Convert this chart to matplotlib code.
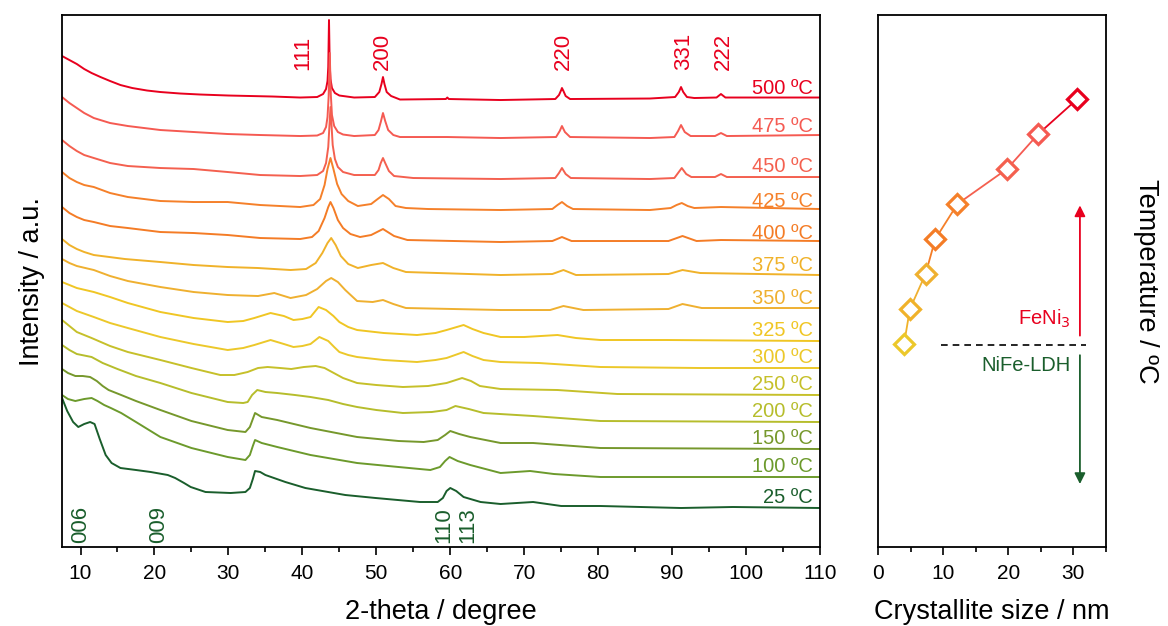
import matplotlib
matplotlib.use('Agg')
import matplotlib.pyplot as plt

plt.rcParams['font.family'] = ['Liberation Sans', 'DejaVu Sans']

# XRD patterns, stacked: (2-theta, intensity a.u.) pairs
temps = [500, 475, 450, 425, 400, 375, 350, 325, 300, 250, 200, 150, 100, 25]
colors = ['#e8001e', '#f55a52', '#f4604f', '#f5802a', '#f47c26', '#f0b22a', '#efb030',
          '#f0c624', '#ecc82a', '#c6c02a', '#b6bd2c', '#76982c', '#6c9a2c', '#1a5e2c']

pts_500 = [(7.5, 491), (8.5, 487), (9.5, 483), (10.5, 478), (11.5, 474), (12.7, 470), (14, 466), (15.4, 462),
           (17, 459), (19, 456.5), (20.8, 455), (23.5, 453.5), (26.2, 452.5), (30, 451.5), (33, 451), (36, 450.5),
           (39.7, 449.5), (42.0, 450), (42.8, 453), (43.2, 458), (43.4, 466), (43.5, 480), (43.6, 527), (43.7, 482),
           (43.8, 468), (44.0, 459), (44.4, 454), (45, 451.5), (47, 449.5), (49.8, 450), (50.4, 455), (50.7, 463),
           (50.9, 470), (51.1, 463), (51.4, 455), (52, 451), (53.2, 447.5), (59.4, 448), (59.6, 449.5), (59.8, 448),
           (66.8, 447), (74.2, 448), (74.7, 452), (75.0, 457), (75.1, 459), (75.3, 456), (75.6, 451), (76.2, 448),
           (87, 448.5), (90.4, 450), (90.9, 455), (91.2, 460), (91.5, 455), (92, 450), (93, 449), (96, 449.5),
           (96.6, 453), (97.2, 449.5), (110, 449.5)]
pts_475 = [(7.5, 450), (8.5, 444), (9.5, 439), (10.5, 434), (11.8, 429), (14, 424), (16.4, 421), (20.8, 417),
           (25.3, 415), (29.9, 413), (34.3, 412), (39.7, 411), (42.0, 411.5), (42.8, 414), (43.2, 420), (43.4, 430),
           (43.55, 450), (43.7, 494), (43.85, 452), (44.0, 432), (44.3, 421), (44.8, 415), (45.5, 412.5), (47, 411),
           (49.8, 412), (50.3, 417), (50.6, 425), (50.9, 434), (51.2, 426), (51.6, 417), (52.3, 412), (53.2, 410),
           (59.6, 410), (66.8, 409), (74.3, 410), (74.8, 416), (75.1, 421), (75.5, 415), (76.2, 410), (87, 409),
           (90.3, 410), (90.8, 416), (91.2, 422), (91.7, 415), (92.5, 411), (95.8, 411), (96.6, 414), (97.4, 411),
           (110, 412)]
pts_450 = [(7.5, 407), (8.5, 401), (9.5, 396), (10.5, 392), (11.8, 389), (14, 384), (16.4, 381), (20.8, 379),
           (25.3, 378), (29.9, 375), (34.3, 372), (39.7, 371), (42.0, 372), (42.8, 376), (43.2, 384), (43.5, 400),
           (43.8, 440), (44.1, 402), (44.4, 388), (44.8, 380), (45.5, 375), (47, 372), (49.8, 372), (50.3, 377),
           (50.6, 384), (50.9, 389), (51.2, 384), (51.7, 376), (52.4, 371), (55, 369), (66.8, 368), (74.2, 369),
           (74.7, 374), (75.1, 379), (75.6, 373), (76.3, 369), (87, 368), (90.3, 369), (90.8, 374), (91.3, 379),
           (91.9, 373), (92.6, 370), (95.8, 370), (96.6, 373), (97.4, 370), (110, 370)]
pts_425 = [(7.5, 375), (8.5, 369), (9.5, 365), (10.5, 362), (11.8, 360), (14, 354), (16.4, 350), (20.8, 346),
           (25.3, 345), (29.9, 345), (34.3, 342), (39.7, 340), (41.5, 342), (42.4, 348), (43.0, 362), (43.4, 378),
           (43.8, 389), (44.2, 378), (44.7, 363), (45.3, 353), (46.2, 346), (47.5, 341), (49.3, 343), (50.0, 347),
           (50.9, 352), (51.7, 348), (52.6, 341), (54, 339), (57, 338), (66.8, 337), (73.8, 338), (74.5, 342),
           (75.1, 345), (75.8, 341), (76.6, 338), (87, 337), (89.8, 339), (90.6, 342), (91.3, 344), (92.1, 341),
           (93, 339), (96.6, 340), (110, 338)]
pts_400 = [(7.5, 340), (8.5, 334), (9.5, 330), (10.5, 327), (11.8, 325), (14, 321), (16.4, 319), (20.8, 315),
           (25.3, 314), (29.9, 312), (34.3, 309), (39.7, 308), (41.3, 310), (42.2, 316), (43.0, 329), (43.5, 340),
           (43.8, 345), (44.2, 339), (44.8, 327), (45.5, 319), (46.5, 313), (47.8, 310), (49.3, 312), (50.9, 318),
           (52.4, 311), (54.2, 307), (66.8, 305), (73.8, 306), (75.1, 310), (76.4, 306), (89.5, 306), (91.4, 311),
           (93.3, 306), (96.6, 307), (110, 306)]
pts_375 = [(7.5, 308), (8.5, 302), (9.5, 298), (10.5, 295), (11.8, 292), (16, 288), (20.8, 285), (25.3, 282),
           (29.9, 280), (34, 279), (38.4, 277), (40.5, 278), (41.8, 284), (42.7, 294), (43.4, 304), (43.9, 309),
           (44.5, 302), (45.2, 291), (46.2, 283), (47.5, 279), (49.3, 282), (50.9, 284), (52.3, 279), (54, 275),
           (66.8, 272), (73.8, 273), (75.3, 277), (77, 272), (89.5, 273), (91.4, 277), (93.8, 274), (110, 272)]
pts_350 = [(7.5, 288), (8.5, 284), (9.5, 281), (11.8, 277), (14, 271), (16.4, 266), (20.8, 260), (25.3, 255),
           (29.9, 252), (34, 251), (36.2, 254), (38.4, 249), (40.5, 252), (42, 258), (43.2, 266), (43.9, 269),
           (44.8, 265), (45.8, 257), (47.4, 246), (49.5, 245), (50.9, 247), (52.3, 243), (54, 239), (66.8, 237),
           (73.5, 237), (75.3, 241), (78, 237), (89.5, 238), (91.4, 243), (94, 239), (110, 239)]
pts_325 = [(7.5, 265), (8.5, 262), (9.5, 259), (11.8, 255), (14, 250), (16.4, 244), (20.8, 235), (25.3, 229),
           (29.9, 225), (32, 226), (33.5, 229), (35.7, 234), (37.5, 231), (38.8, 227), (40, 228), (41.1, 230),
           (42.2, 240), (43.2, 237), (44.2, 231), (45, 225), (46.2, 220), (47.4, 217), (51, 214), (55.5, 212),
           (58, 214), (59.5, 217), (61.8, 222), (63, 218), (64.5, 214), (66.8, 210), (70, 210), (74.5, 212),
           (77, 209), (80.3, 207), (89.3, 207), (110, 206)]
pts_300 = [(7.5, 244), (8.5, 240), (9.5, 236), (11.8, 230), (14, 224), (16.4, 219), (20.8, 210), (25.3, 203),
           (29.9, 197), (32, 199), (33.5, 202), (35.7, 207), (37.5, 203), (38.8, 200), (40, 201), (41.1, 203),
           (42.3, 210), (43.5, 206), (44.3, 200), (45, 195), (46.2, 192), (47.4, 190), (51, 187), (55.5, 185),
           (58, 187), (59.5, 189), (61.8, 195), (63, 191), (64.5, 187), (66.8, 185), (72, 184), (80.3, 180),
           (93.8, 179), (110, 179)]
pts_250 = [(7.5, 227), (8.5, 221), (9.5, 215), (11.5, 209), (14, 201), (16.4, 195), (20.8, 187), (25, 179),
           (28.9, 172), (30.8, 172), (32.6, 175), (34, 179), (35.3, 180), (37, 179), (38.5, 178), (40.2, 180),
           (41.8, 181), (43, 179), (44, 175), (45.5, 169), (47.4, 164), (50, 162), (53.6, 160), (57, 161),
           (59.5, 164), (61.6, 169), (62.8, 166), (64, 161), (66.8, 158), (74.5, 157), (82.6, 153), (110, 152)]
pts_200 = [(7.5, 202), (8.5, 197), (9.5, 193), (11.5, 190), (13, 184), (15, 178), (17.5, 171), (20.8, 164),
           (25, 154), (29.9, 145), (32, 144), (32.6, 145), (33.2, 152), (33.9, 157), (35, 155), (36.6, 154),
           (39, 152), (41.1, 150), (43.5, 147), (45.5, 143), (47.4, 140), (50, 137), (53.6, 134), (57.5, 135),
           (59.5, 137), (60.7, 141), (62.5, 138), (64.5, 134), (71.2, 131), (80.3, 126), (110, 125)]
pts_150 = [(7.5, 178), (8.3, 174), (9.3, 171), (10.3, 171), (11.3, 170), (12.2, 166), (13, 161), (13.8, 157),
           (15.5, 152), (17.5, 146), (20.8, 137), (25, 126), (29.9, 117), (32.3, 115), (32.9, 120), (33.3, 128),
           (33.6, 134), (34.5, 130), (36.6, 127), (41.1, 119), (47.4, 110), (53, 106), (56.4, 105), (58.3, 107),
           (59.3, 112), (60, 116), (61.2, 113), (62.7, 110), (66.8, 104), (71.2, 104), (80.3, 99), (110, 98)]
pts_100 = [(7.5, 152), (8.3, 148), (9.3, 146), (10.5, 148), (11.5, 149), (12.3, 146), (13.2, 142), (14.1, 139),
           (15.5, 134), (17.5, 125), (20.8, 110), (25, 99), (29.9, 90), (32.3, 87), (32.9, 92), (33.3, 101),
           (33.6, 107), (34.5, 104), (36.6, 100), (41.1, 92), (47.4, 84), (53, 80), (57.3, 77), (58.6, 80),
           (59.3, 86), (59.9, 90), (61, 86), (62.7, 82), (66.8, 74), (70.8, 76), (74, 73), (80.3, 70), (110, 70)]
pts_25 = [(7.5, 149), (8.2, 136), (9.0, 125), (9.7, 120), (10.5, 123), (11.3, 125), (11.9, 123), (12.6, 108),
          (13.4, 92), (14.2, 84), (15.4, 79), (17.5, 77), (19.5, 75), (21.8, 72), (22.8, 69), (24, 64), (24.9, 60),
          (26.9, 55), (30.3, 54), (32.3, 55), (32.9, 59), (33.3, 68), (33.6, 76), (34.3, 75), (35.0, 72),
          (37.7, 65), (40.4, 59), (45.8, 52), (49.9, 49), (55.9, 45), (58.3, 45), (59.0, 49), (59.5, 56),
          (60.0, 59), (60.8, 56), (61.8, 50), (64.1, 45), (66.8, 43), (71.2, 45), (75, 41), (80.3, 41),
          (91.2, 39), (98.2, 40), (110, 39)]

patterns = [pts_500, pts_475, pts_450, pts_425, pts_400, pts_375, pts_350,
            pts_325, pts_300, pts_250, pts_200, pts_150, pts_100, pts_25]
label_y = [459, 421, 381, 346, 314, 282, 249, 217, 190, 163, 136, 109, 81, 50]

fenih_peaks = ['111', '200', '220', '331', '222']
fenih_pos = [40.1, 50.8, 75.3, 91.5, 96.9]
ldh_peaks = ['006', '009', '110', '113']
ldh_pos = [10.0, 20.5, 59.1, 62.4]

# crystallite size vs temperature
size_temps = [325, 350, 375, 400, 425, 450, 475, 500]
sizes = [4.0, 4.9, 7.3, 8.8, 12.2, 19.8, 24.6, 30.6]
size_colors = ['#ecc82a', '#f0b22a', '#efb030', '#f47c26', '#f5802a', '#f4604f', '#f55a52', '#e8001e']

red = '#e8001e'
green = '#1a5e2c'

fig = plt.figure(figsize=(11.68, 6.26), dpi=100)
ax1 = fig.add_axes([0.0531, 0.1262, 0.6490, 0.8498])
ax2 = fig.add_axes([0.7517, 0.1262, 0.1952, 0.8498])

for pts, c, t, ly in zip(patterns, colors, temps, label_y):
    tt, inten = zip(*pts)
    ax1.plot(tt, inten, color=c, lw=1.4)
    ax1.text(109, ly, f'{t} \u00baC', color=c, fontsize=14.5, ha='right', va='center')

for lab, p in zip(fenih_peaks, fenih_pos):
    ax1.text(p, 477, lab, color=red, fontsize=16, rotation=90, ha='center', va='bottom')
for lab, p in zip(ldh_peaks, ldh_pos):
    ax1.text(p, 4, lab, color=green, fontsize=16, rotation=90, ha='center', va='bottom')

ax1.set_xlim(7.5, 110)
ax1.set_ylim(0, 532)
ax1.set_xticks(range(10, 111, 10))
ax1.set_xticks(range(15, 110, 10), minor=True)
ax1.set_yticks([])
ax1.set_xlabel('2-theta / degree', fontsize=19.5, labelpad=12)
ax1.set_ylabel('Intensity / a.u.', fontsize=19.5, labelpad=12)

for i in range(len(sizes) - 1):
    ax2.plot(sizes[i:i + 2], size_temps[i:i + 2], color=size_colors[i + 1], lw=1.3, zorder=2)
for s, t, c in zip(sizes, size_temps, size_colors):
    ax2.plot(s, t, marker='D', ms=10.5, mfc='white', mec=c, mew=2.3, zorder=3)

ax2.plot([9.7, 32], [324, 324], color='black', lw=1.2, ls=(0, (4, 3)))
ax2.annotate('', xy=(31.0, 426), xytext=(31.0, 329),
             arrowprops=dict(arrowstyle='-|>', color=red, lw=1.3, mutation_scale=16))
ax2.annotate('', xy=(31.0, 223), xytext=(31.0, 319),
             arrowprops=dict(arrowstyle='-|>', color=green, lw=1.3, mutation_scale=16))
ax2.text(29.6, 343, 'FeNi$_3$', color=red, fontsize=14.5, ha='right', va='center')
ax2.text(29.6, 310, 'NiFe-LDH', color=green, fontsize=14.5, ha='right', va='center')

ax2.set_xlim(0, 35)
ax2.set_ylim(180, 560)
ax2.set_xticks([0, 10, 20, 30])
ax2.set_xticks([5, 15, 25, 35], minor=True)
ax2.set_yticks([])
ax2.set_xlabel('Crystallite size / nm', fontsize=19.5, labelpad=12)
ax2.yaxis.set_label_position('right')
ax2.set_ylabel('Temperature / \u00baC', fontsize=19.5, rotation=270, labelpad=38)

for ax in (ax1, ax2):
    for sp in ax.spines.values():
        sp.set_linewidth(1.3)
    ax.tick_params(axis='x', which='major', direction='out', length=6, width=1.2, labelsize=15, pad=6)
    ax.tick_params(axis='x', which='minor', direction='out', length=3.5, width=1.2)

fig.savefig('out.png', dpi=100)
